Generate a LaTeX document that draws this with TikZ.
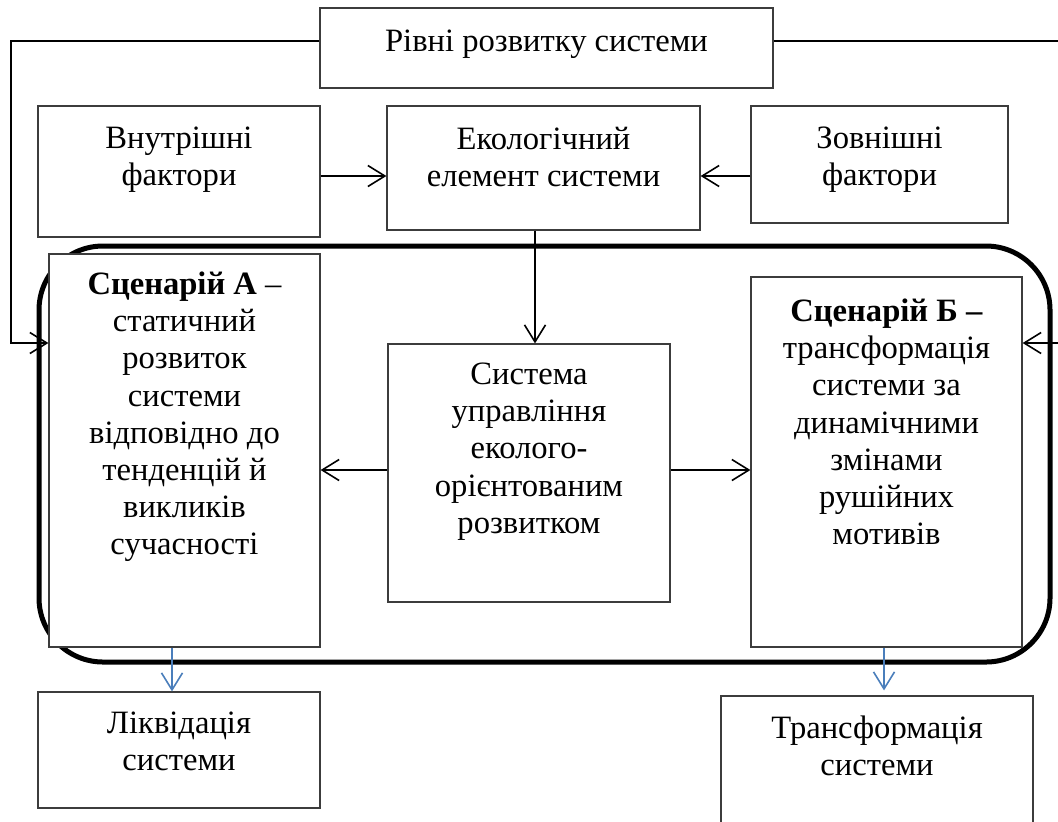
\documentclass[tikz,border=0pt]{standalone}
\usepackage{fontspec}
\setmainfont{Liberation Serif}
\usetikzlibrary{arrows.meta,fit,calc}
\definecolor{boxgray}{HTML}{3C3C3C}
\definecolor{wordblue}{HTML}{4A7EBB}
\tikzset{
  box/.style={draw=boxgray, line width=0.6pt, fill=white, inner sep=0pt, rectangle},
  txt/.style={align=center, inner sep=0pt, anchor=north, font=\fontsize{16.3}{18.6}\selectfont},
  arr/.style={draw=black, line width=0.8pt, -{Straight Barb[length=8.5pt,width=10.5pt,line width=0.8pt]}},
  barr/.style={draw=wordblue, line width=0.8pt, -{Straight Barb[length=8.5pt,width=10.5pt,line width=0.8pt]}},
  feed/.style={draw=black, line width=0.8pt},
  frame/.style={draw=black, line width=2.5pt, rounded corners=32pt}
}
\begin{document}
\begin{tikzpicture}[x=0.5pt,y=-0.5pt]
\useasboundingbox (0,0) rectangle (1058,821);
\clip (0,0) rectangle (1058,821);
% big rounded frame
\draw[frame] (39,246) rectangle (1050,662);
% boxes
\node[box, fit={(320,8) (773,88)}] (lev) {};
\node[box, fit={(38,106) (320,237)}] (vf) {};
\node[box, fit={(387,106) (700,230)}] (eco) {};
\node[box, fit={(751,106) (1008,223)}] (zf) {};
\node[box, fit={(49,254) (320,647)}] (scA) {};
\node[box, fit={(751,277) (1022,647)}] (scB) {};
\node[box, fit={(388,344) (670,602)}] (sys) {};
\node[box, fit={(38,692) (320,808)}] (liq) {};
\node[box, fit={(721,696) (1033,840)}] (trf) {};
% texts
\node[txt] (levt) at ([yshift=-11pt]lev.north) {Рівні розвитку системи};
\node[txt] (vft) at ([yshift=-10.5pt]vf.north) {Внутрішні\\фактори};
\node[txt] (ecot) at ([yshift=-10.5pt]eco.north) {Екологічний\\елемент системи};
\node[txt] (zft) at ([yshift=-10.5pt]zf.north) {Зовнішні\\фактори};
\node[txt] (scAt) at ([yshift=-9pt]scA.north) {\textbf{Сценарій А} –\\статичний\\розвиток\\системи\\відповідно до\\тенденцій й\\викликів\\сучасності};
\node[txt] (scBt) at ([yshift=-11pt]scB.north) {\textbf{Сценарій Б –}\\трансформація\\системи за\\динамічними\\змінами\\рушійних\\мотивів};
\node[txt] (syst) at ([yshift=-9.5pt]sys.north) {Система\\управління\\еколого-\\орієнтованим\\розвитком};
\node[txt] (liqt) at ([yshift=-10pt]liq.north) {Ліквідація\\системи};
\node[txt] (trft) at ([yshift=-10pt]trf.north) {Трансформація\\системи};
% helper coordinates
\coordinate (r1) at (0,176);
\coordinate (r2) at (0,343);
\coordinate (r3) at (0,470);
\coordinate (cx1) at (535,0);
\coordinate (cx2) at (172,0);
\coordinate (cx3) at (884,0);
\coordinate (lx) at (11,0);
\coordinate (rx) at (1062,0);
% feedback lines
\draw[feed, -{Straight Barb[length=8.5pt,width=10.5pt,line width=0.8pt]}] (lev.west |- 0,41) -- (lx |- 0,41) -- (lx |- r2) -- (scA.west |- r2);
\draw[feed, -{Straight Barb[length=8.5pt,width=10.5pt,line width=0.8pt]}] (lev.east |- 0,41) -- (rx |- 0,41) -- (rx |- r2) -- (scB.east |- r2);
% arrows
\draw[arr] (vf.east |- r1) -- (eco.west |- r1);
\draw[arr] (zf.west |- r1) -- (eco.east |- r1);
\draw[arr] (eco.south -| cx1) -- (sys.north -| cx1);
\draw[arr] (sys.west |- r3) -- (scA.east |- r3);
\draw[arr] (sys.east |- r3) -- (scB.west |- r3);
\draw[barr] (scA.south -| cx2) -- (liq.north -| cx2);
\draw[barr] (scB.south -| cx3) -- ($(trf.north -| cx3)+(0,-5)$);
\end{tikzpicture}
\end{document}
